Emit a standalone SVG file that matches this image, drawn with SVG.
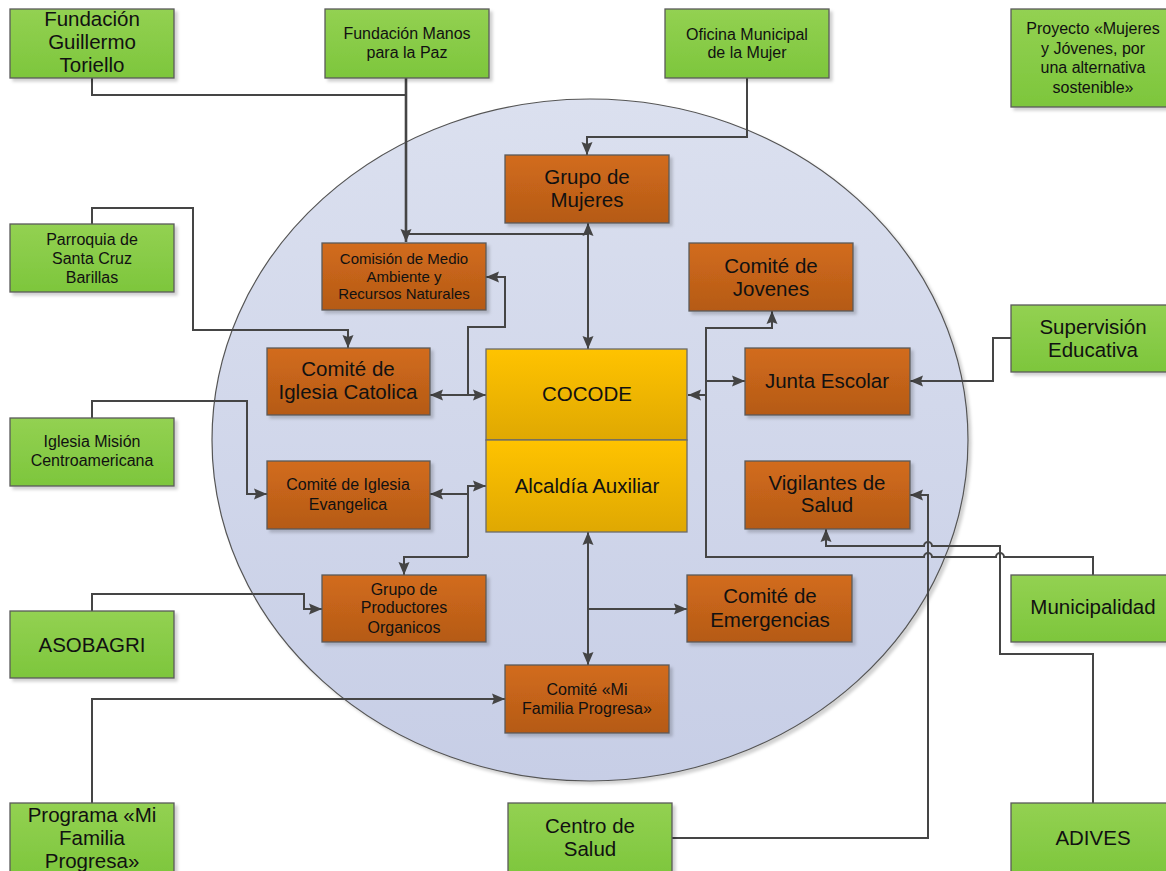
<svg xmlns="http://www.w3.org/2000/svg" width="1166" height="871" viewBox="0 0 1166 871">
<defs>
<linearGradient id="gGreen" x1="0" y1="0" x2="0" y2="1"><stop offset="0" stop-color="#93D152"/><stop offset="1" stop-color="#7DC63C"/></linearGradient>
<linearGradient id="gOrange" x1="0" y1="0" x2="0" y2="1"><stop offset="0" stop-color="#D26C1C"/><stop offset="1" stop-color="#B55A17"/></linearGradient>
<linearGradient id="gYellow" x1="0" y1="0" x2="0" y2="1"><stop offset="0" stop-color="#FFC300"/><stop offset="1" stop-color="#DFA802"/></linearGradient>
<linearGradient id="gEll" x1="0" y1="0" x2="0" y2="1"><stop offset="0" stop-color="#DBE0EF"/><stop offset="1" stop-color="#C7CEE6"/></linearGradient>
<filter id="sh" x="-10%" y="-10%" width="130%" height="130%"><feDropShadow dx="3" dy="3" stdDeviation="1.5" flood-color="#000" flood-opacity="0.18"/></filter>
<marker id="ar" markerUnits="userSpaceOnUse" markerWidth="14" markerHeight="14" viewBox="0 0 14 14" refX="13" refY="7" orient="auto-start-reverse"><path d="M0,1.5 L13,7 L0,12.5 L2,7 z" fill="#444"/></marker>
<style>
.g{fill:url(#gGreen);stroke:#5a5a5a;stroke-width:1.3;filter:url(#sh)}
.o{fill:url(#gOrange);stroke:#5a5a5a;stroke-width:1.3;filter:url(#sh)}
.y{fill:url(#gYellow);stroke:#6a6a6a;stroke-width:1.3}
text{font-family:"Liberation Sans",Arial,sans-serif;fill:#111;text-anchor:middle}
.L{font-size:20.5px}
.S{font-size:16px}
.XS{font-size:15px}
.c{fill:none;stroke:#454545;stroke-width:2}
.a{marker-end:url(#ar)}
.b{marker-start:url(#ar);marker-end:url(#ar)}
</style>
</defs>
<rect width="1166" height="871" fill="#fff"/>
<ellipse cx="590" cy="440" rx="378" ry="341" fill="url(#gEll)" stroke="#555" stroke-width="1.2" filter="url(#sh)"/>

<g id="connectors">
<path class="c" d="M92,78 V95 H406"/>
<path class="c a" d="M406,78 V242" style="stroke-width:2.6"/>
<path class="c" d="M406,234 H588"/>
<path class="c b" d="M588,223 V349"/>
<path class="c a" d="M747,78 V137 H587 V155"/>
<path class="c a" d="M92,224 V208 H193 V330 H348 V348"/>
<path class="c b" d="M430,395 H486"/>
<path class="c a" d="M468,395 V327 H505 V277 H486"/>
<path class="c a" d="M92,418 V401 H247 V494 H267"/>
<path class="c a" d="M468,557 V486 H486"/>
<path class="c a" d="M468,494 H430"/>
<path class="c a" d="M468,557 H404 V575"/>
<path class="c a" d="M92,611 V594 H304 V609 H322"/>
<path class="c b" d="M588,532 V665"/>
<path class="c a" d="M588,609 H687"/>
<path class="c a" d="M92,803 V699 H505"/>
<path class="c a" d="M672,838 H928 V495 H910"/>
<path class="c a" d="M1093,803 V654 H1000 V546 H932 A4,4 0 0 0 924,546 H826 V529"/>
<path class="c a" d="M1093,575 V557 H1004 A4,4 0 0 0 996,557 H932 A4,4 0 0 0 924,557 H706 V328 H772 V311"/>
<path class="c a" d="M706,381 H745"/>
<path class="c a" d="M706,395 H688"/>
<path class="c a" d="M1011,338 H993 V381 H910"/>
</g>

<g id="fgt"><rect class="g" x="10" y="9" width="164" height="69"/><text class="L" x="92" y="26">Fundación</text><text class="L" x="92" y="49">Guillermo</text><text class="L" x="92" y="72">Toriello</text></g>
<g id="manos"><rect class="g" x="325" y="9" width="164" height="69"/><text class="S" x="407" y="38.5">Fundación Manos</text><text class="S" x="407" y="57.5">para la Paz</text></g>
<g id="oficina"><rect class="g" x="665" y="9" width="164" height="69"/><text class="S" x="747" y="39.5">Oficina Municipal</text><text class="S" x="747" y="58">de la Mujer</text></g>
<g id="proyecto"><rect class="g" x="1011" y="9" width="164" height="98"/><text class="S" x="1093" y="34.3">Proyecto «Mujeres</text><text class="S" x="1093" y="53.9">y Jóvenes, por</text><text class="S" x="1093" y="73.3">una alternativa</text><text class="S" x="1093" y="92.6">sostenible»</text></g>
<g id="parroquia"><rect class="g" x="10" y="224" width="164" height="68"/><text class="S" x="92" y="244.6">Parroquia de</text><text class="S" x="92" y="263.6">Santa Cruz</text><text class="S" x="92" y="282.6">Barillas</text></g>
<g id="mision"><rect class="g" x="10" y="418" width="164" height="68"/><text class="S" x="92" y="447.3">Iglesia Misión</text><text class="S" x="92" y="466.3">Centroamericana</text></g>
<g id="asobagri"><rect class="g" x="10" y="611" width="164" height="67"/><text class="L" x="92" y="651.5">ASOBAGRI</text></g>
<g id="programa"><rect class="g" x="10" y="803" width="164" height="74"/><text class="L" x="92" y="822">Programa «Mi</text><text class="L" x="92" y="845">Familia</text><text class="L" x="92" y="868">Progresa»</text></g>
<g id="centro"><rect class="g" x="508" y="803" width="164" height="74"/><text class="L" x="590" y="833">Centro de</text><text class="L" x="590" y="855.5">Salud</text></g>
<g id="adives"><rect class="g" x="1011" y="803" width="164" height="74"/><text class="L" x="1093" y="845">ADIVES</text></g>
<g id="supervision"><rect class="g" x="1011" y="305" width="164" height="67"/><text class="L" x="1093" y="334">Supervisión</text><text class="L" x="1093" y="356.5">Educativa</text></g>
<g id="municipalidad"><rect class="g" x="1011" y="575" width="164" height="67"/><text class="L" x="1093" y="614">Municipalidad</text></g>

<g id="mujeres"><rect class="o" x="505" y="155" width="164" height="68"/><text class="L" x="587" y="184">Grupo de</text><text class="L" x="587" y="206.5">Mujeres</text></g>
<g id="comision"><rect class="o" x="322" y="243" width="164" height="67"/><text class="XS" x="404" y="264.3">Comisión de Medio</text><text class="XS" x="404" y="282">Ambiente y</text><text class="XS" x="404" y="299.3">Recursos Naturales</text></g>
<g id="jovenes"><rect class="o" x="689" y="243" width="164" height="68"/><text class="L" x="771" y="273">Comité de</text><text class="L" x="771" y="295.5">Jovenes</text></g>
<g id="catolica"><rect class="o" x="267" y="348" width="163" height="67"/><text class="L" x="348" y="376">Comité de</text><text class="L" x="348" y="399">Iglesia Catolica</text></g>
<g id="junta"><rect class="o" x="745" y="348" width="165" height="67"/><text class="L" x="827" y="388">Junta Escolar</text></g>
<g id="evangelica"><rect class="o" x="267" y="461" width="163" height="68"/><text class="S" x="348" y="490.3">Comité de Iglesia</text><text class="S" x="348" y="509.9">Evangelica</text></g>
<g id="vigilantes"><rect class="o" x="745" y="461" width="165" height="68"/><text class="L" x="827" y="490">Vigilantes de</text><text class="L" x="827" y="512.3">Salud</text></g>
<g id="productores"><rect class="o" x="322" y="575" width="164" height="67"/><text class="S" x="404" y="594.6">Grupo de</text><text class="S" x="404" y="613.3">Productores</text><text class="S" x="404" y="632.9">Organicos</text></g>
<g id="emergencias"><rect class="o" x="687" y="575" width="165" height="67"/><text class="L" x="770" y="603.3">Comité de</text><text class="L" x="770" y="626.6">Emergencias</text></g>
<g id="mifamilia"><rect class="o" x="505" y="665" width="164" height="68"/><text class="S" x="587" y="694.9">Comité «Mi</text><text class="S" x="587" y="714.3">Familia Progresa»</text></g>

<g id="cocode"><rect class="y" x="486" y="349" width="201" height="91"/><text class="L" x="587" y="401.3">COCODE</text></g>
<g id="alcaldia"><rect class="y" x="486" y="440" width="201" height="92"/><text class="L" x="587" y="493">Alcaldía Auxiliar</text></g>
</svg>
